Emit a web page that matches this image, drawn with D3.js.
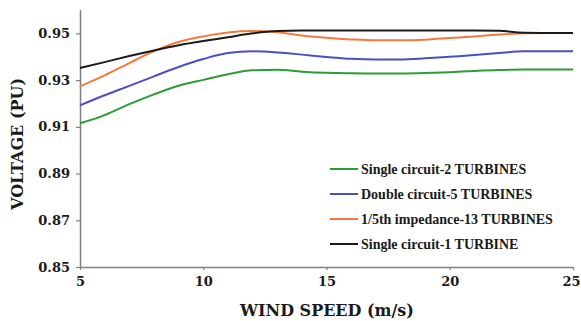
<!DOCTYPE html>
<html>
<head>
<meta charset="utf-8">
<style>
  body { margin: 0; background: #fff; }
  svg text { font-family: "DejaVu Serif", serif; font-weight: bold; fill: #1a1a1a; }
</style>
</head>
<body>
<svg id="chart" width="581" height="321"></svg>
<script src="https://d3js.org/d3.v7.min.js"></script>
<script>
// wind speed samples (m/s)
var windSpeed = [5, 6, 7, 8, 9, 10, 11, 12, 13, 14, 15, 16, 17, 18, 19, 20, 21, 22, 23, 24, 25];

// voltage (pu)
var single2 = [0.9115, 0.9150, 0.9197, 0.9239, 0.9276, 0.9301, 0.9325, 0.9342, 0.9344, 0.9336, 0.9331, 0.9329,
               0.9328, 0.9328, 0.9330, 0.9334, 0.9339, 0.9343, 0.9345, 0.9345, 0.9345];
var double5 = [0.9192, 0.9235, 0.9275, 0.9316, 0.9356, 0.9390, 0.9416, 0.9423, 0.9418, 0.9409, 0.9399, 0.9391,
               0.9388, 0.9388, 0.9393, 0.9400, 0.9407, 0.9416, 0.9423, 0.9423, 0.9423];
var fifthImp = [0.9273, 0.9320, 0.9373, 0.9424, 0.9463, 0.9487, 0.9504, 0.9510, 0.9505, 0.9491, 0.9481, 0.9474,
                0.9470, 0.9470, 0.9473, 0.9480, 0.9487, 0.9495, 0.9501, 0.9502, 0.9502];
var single1 = [0.9352, 0.9377, 0.9403, 0.9427, 0.9449, 0.9467, 0.9483, 0.9500, 0.9510, 0.9512, 0.9512, 0.9512,
               0.9512, 0.9512, 0.9512, 0.9512, 0.9512, 0.9511, 0.9503, 0.9502, 0.9502];

var seriesNames = ["Single circuit-2 TURBINES", "Double circuit-5 TURBINES", "1/5th impedance-13 TURBINES", "Single circuit-1 TURBINE"];
var seriesColors = ["#2e9b34", "#4b4fc4", "#f47a3c", "#1a1a1a"];
var seriesValues = [single2, double5, fifthImp, single1];

var xTicks = [5, 10, 15, 20, 25];
var yTicks = [0.85, 0.87, 0.89, 0.91, 0.93, 0.95];

var svg = d3.select("#chart");
var m = { left: 80, right: 573, top: 10, bottom: 267 };

var x = d3.scaleLinear().domain([5, 25]).range([m.left, m.right]);
var y = d3.scaleLinear().domain([0.85, 0.96]).range([m.bottom, m.top]);

// axes
var xAxis = svg.append("g")
  .attr("transform", "translate(0," + m.bottom + ")")
  .call(d3.axisBottom(x).tickValues(xTicks).tickFormat(d3.format("d")).tickSize(3).tickPadding(7));
var yAxis = svg.append("g")
  .attr("transform", "translate(" + m.left + ",0)")
  .call(d3.axisLeft(y).tickValues(yTicks).tickFormat(d3.format(".2f")).tickSize(4).tickPadding(6));

[xAxis, yAxis].forEach(function (g) {
  g.select(".domain").attr("stroke", "#808080").attr("stroke-width", 1.5);
  g.selectAll(".tick line").attr("stroke", "#808080").attr("stroke-width", 1.2);
  g.selectAll(".tick text")
    .style("font-family", '"DejaVu Serif", serif')
    .style("font-weight", "bold")
    .style("font-size", "13px")
    .attr("fill", "#1a1a1a");
});
yAxis.select(".domain").attr("d", "M0.5," + m.top + "V" + m.bottom);
xAxis.select(".domain").attr("d", "M" + m.left + ",0.5H" + m.right);
// keep the last label inside the frame
xAxis.selectAll(".tick text").filter(function (d) { return d === 25; }).attr("dx", "-2");

// lines
var line = d3.line()
  .x(function (d, i) { return x(windSpeed[i]); })
  .y(function (d) { return y(d); })
  .curve(d3.curveMonotoneX);

seriesValues.forEach(function (vals, k) {
  svg.append("path")
    .datum(vals)
    .attr("fill", "none")
    .attr("stroke", seriesColors[k])
    .attr("stroke-width", 2)
    .attr("d", line);
});

// titles
svg.append("text")
  .attr("x", 327).attr("y", 316)
  .attr("text-anchor", "middle")
  .style("font-size", "16px")
  .text("WIND SPEED (m/s)");

svg.append("text")
  .attr("transform", "translate(23,144) rotate(-90)")
  .attr("text-anchor", "middle")
  .style("font-size", "16px")
  .text("VOLTAGE (PU)");

// legend
var legend = svg.append("g").attr("transform", "translate(330,169)");
seriesNames.forEach(function (name, k) {
  var row = legend.append("g").attr("transform", "translate(0," + (k * 25) + ")");
  row.append("line")
    .attr("x1", 0).attr("x2", 28)
    .attr("stroke", seriesColors[k]).attr("stroke-width", 2);
  row.append("text")
    .attr("x", 31).attr("dy", "0.35em")
    .style("font-family", '"Liberation Serif", serif')
    .style("font-size", "14px")
    .text(name);
});
</script>
</body>
</html>
